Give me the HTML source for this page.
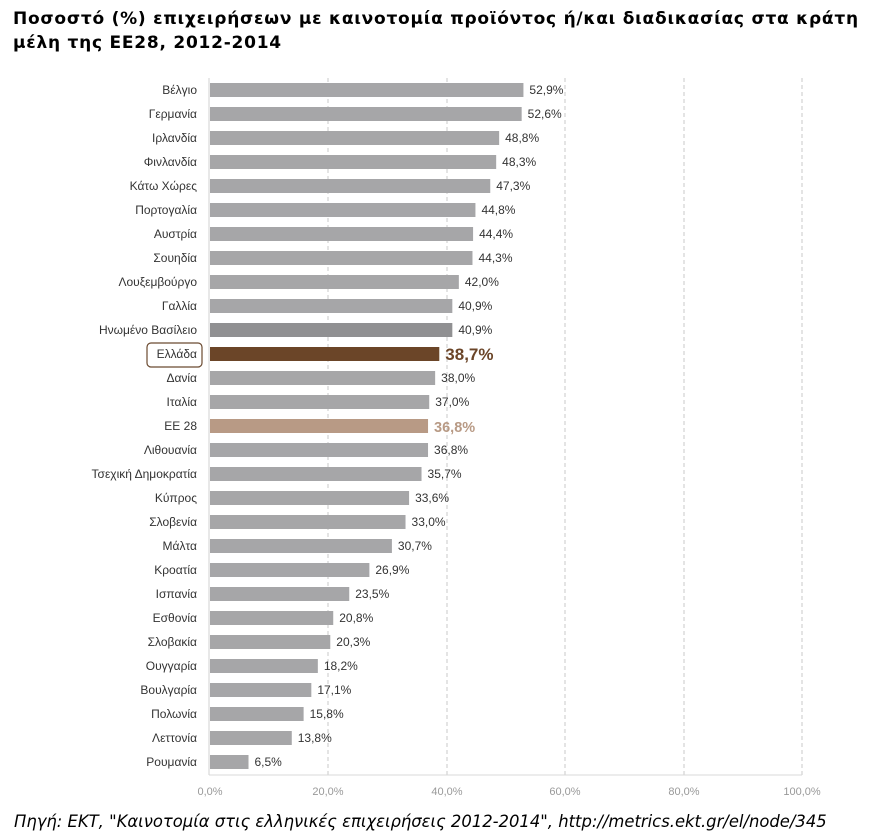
<!DOCTYPE html>
<html><head><meta charset="utf-8"><style>
body{margin:0;width:874px;height:839px;background:#fff;overflow:hidden;position:relative;font-family:"Liberation Sans",sans-serif}
.t{position:absolute;left:13px;top:7px;font:bold 17px "DejaVu Sans",sans-serif;letter-spacing:0.76px;line-height:24px;color:#000;white-space:nowrap}
.src{position:absolute;left:14px;top:812px;font:italic 16.4px "DejaVu Sans",sans-serif;color:#000;white-space:nowrap}
</style></head><body>
<div class="t">Ποσοστό (%) επιχειρήσεων με καινοτομία προϊόντος ή/και διαδικασίας στα κράτη<br>μέλη της ΕΕ28, 2012-2014</div>
<svg width="874" height="839" style="position:absolute;left:0;top:0" font-family="Liberation Sans, sans-serif">
<g stroke="#c8c8c8" stroke-dasharray="4,3">
<line x1="328" y1="78" x2="328" y2="775"/><line x1="447" y1="78" x2="447" y2="775"/><line x1="565" y1="78" x2="565" y2="775"/><line x1="684" y1="78" x2="684" y2="775"/><line x1="802" y1="78" x2="802" y2="775"/>
</g>
<line x1="209" y1="78" x2="209" y2="775" stroke="#d0d0d0"/>
<line x1="209" y1="775" x2="802" y2="775" stroke="#d9d9d9"/>
<g font-size="11" fill="#999" text-anchor="middle">
<text x="210" y="795">0,0%</text><text x="328" y="795">20,0%</text><text x="447" y="795">40,0%</text><text x="565" y="795">60,0%</text><text x="684" y="795">80,0%</text><text x="802" y="795">100,0%</text>
</g>
<g id="bars"></g>
<rect x="147" y="343" width="55" height="24" rx="4" fill="none" stroke="#6b4a30" stroke-width="1.2"/>
</svg>
<div class="src">Πηγή: ΕΚΤ, "Καινοτομία στις ελληνικές επιχειρήσεις 2012-2014", http://metrics.ekt.gr/el/node/345</div>
<script>
var d=[["Βέλγιο",52.9],["Γερμανία",52.6],["Ιρλανδία",48.8],["Φινλανδία",48.3],["Κάτω Χώρες",47.3],["Πορτογαλία",44.8],["Αυστρία",44.4],["Σουηδία",44.3],["Λουξεμβούργο",42.0],["Γαλλία",40.9],["Ηνωμένο Βασίλειο",40.9],["Ελλάδα",38.7],["Δανία",38.0],["Ιταλία",37.0],["ΕΕ 28",36.8],["Λιθουανία",36.8],["Τσεχική Δημοκρατία",35.7],["Κύπρος",33.6],["Σλοβενία",33.0],["Μάλτα",30.7],["Κροατία",26.9],["Ισπανία",23.5],["Εσθονία",20.8],["Σλοβακία",20.3],["Ουγγαρία",18.2],["Βουλγαρία",17.1],["Πολωνία",15.8],["Λεττονία",13.8],["Ρουμανία",6.5]];
var s="";
d.forEach(function(r,i){var y=90+i*24;var w=r[1]*5.925;var c="#a6a6a8",lc="#333",fs=12,fw="normal";
if(r[0]=="Ελλάδα"){c="#6b4528";lc="#6b4528";fs=17;fw="bold";}
if(r[0]=="ΕΕ 28"){c="#b89a85";lc="#b89a85";fs=14.5;fw="bold";}
if(r[0]=="Ηνωμένο Βασίλειο")c="#909092";
s+='<rect x="210" y="'+(y-7)+'" width="'+w+'" height="14" fill="'+c+'"/>';
s+='<text x="197" y="'+(y+4)+'" font-size="12" text-anchor="end" fill="#333">'+r[0]+'</text>';
s+='<text x="'+(216+w)+'" y="'+(y+(fs>13?6:4))+'" font-size="'+fs+'" font-weight="'+fw+'" fill="'+lc+'">'+r[1].toFixed(1).replace(".",",")+'%</text>';});
document.getElementById("bars").innerHTML=s;
</script>
</body></html>
